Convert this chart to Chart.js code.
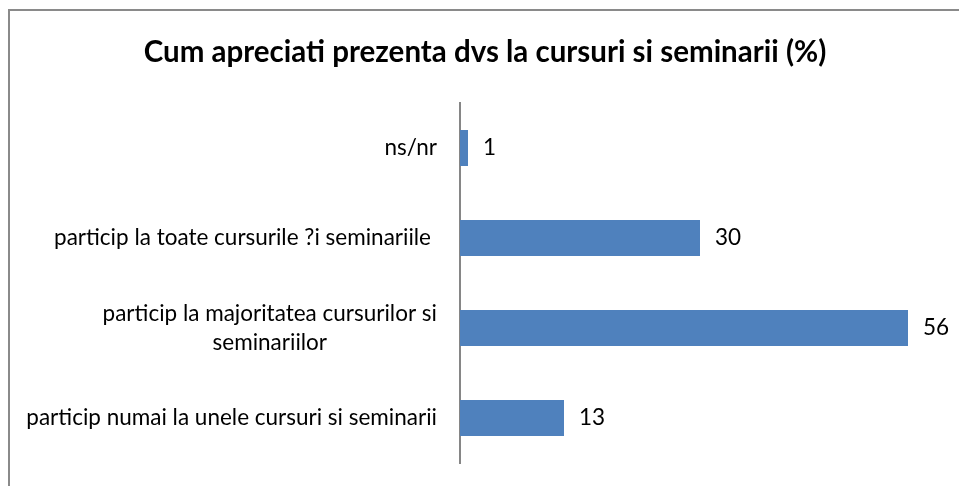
<!DOCTYPE html>
<html>
<head>
<meta charset="utf-8">
<script src="https://cdn.jsdelivr.net/npm/chart.js@4"></script>
<style>
  html, body { margin: 0; padding: 0; background: #fff; overflow: hidden; }
  #wrap { position: relative; width: 959px; height: 486px; }
  #chenar { position: absolute; left: 8px; top: 9px; width: 1100px; height: 700px;
            border-left: 2px solid #8a8a8a; border-top: 2px solid #8a8a8a; }
  #grafic { position: absolute; left: 0; top: 0; }
</style>
</head>
<body>
<div id="wrap">
  <div id="chenar"></div>
  <canvas id="grafic" width="959" height="486"></canvas>
</div>
<script>
const titlu = 'Cum apreciati prezenta dvs la cursuri si seminarii (%)';
const categorii = [
  'ns/nr',
  'particip la toate cursurile ?i seminariile ',
  ['particip la majoritatea cursurilor si', 'seminariilor'],
  'particip numai la unele cursuri si seminarii'
];
const procente = [1, 30, 56, 13];

const fontText = 'Lato';
const marimeText = 22.5;

// etichetele de categorie, fiecare rand centrat in blocul lui, blocul aliniat la dreapta
const eticheteCategorii = {
  id: 'eticheteCategorii',
  afterDraw(chart) {
    const ctx = chart.ctx;
    const y = chart.scales.y;
    const xDreapta = chart.chartArea.left - 23;
    ctx.save();
    ctx.font = `${marimeText}px ${fontText}`;
    ctx.fillStyle = '#000';
    ctx.textAlign = 'center';
    ctx.textBaseline = 'middle';
    categorii.forEach((c, i) => {
      const randuri = Array.isArray(c) ? c : [c];
      const lat = Math.max(...randuri.map(r => ctx.measureText(r.trimEnd()).width));
      const h = 29;
      const yc = y.getPixelForValue(i);
      randuri.forEach((r, k) => {
        const yy = yc + (k - (randuri.length - 1) / 2) * h;
        ctx.fillText(r.trimEnd(), xDreapta - lat / 2 - (r.endsWith(' ') ? 6 : 0), yy);
      });
    });
    ctx.restore();
  }
};

// valorile scrise dupa capatul barelor
const eticheteValori = {
  id: 'eticheteValori',
  afterDatasetsDraw(chart) {
    const ctx = chart.ctx;
    const meta = chart.getDatasetMeta(0);
    ctx.save();
    ctx.font = `${marimeText}px ${fontText}`;
    ctx.fillStyle = '#000';
    ctx.textAlign = 'left';
    ctx.textBaseline = 'middle';
    meta.data.forEach((bar, i) => {
      ctx.fillText(String(procente[i]), bar.x + 15, bar.y);
    });
    ctx.restore();
  }
};

new Chart(document.getElementById('grafic'), {
  type: 'bar',
  data: {
    labels: categorii,
    datasets: [{
      label: 'Procent',
      data: procente,
      backgroundColor: '#4F81BD',
      borderWidth: 0,
      barPercentage: 0.4,
      categoryPercentage: 1
    }]
  },
  options: {
    indexAxis: 'y',
    responsive: false,
    animation: false,
    layout: { padding: { left: 30, right: 19, bottom: 23 } },
    plugins: {
      legend: { display: false },
      tooltip: { enabled: false },
      title: {
        display: true,
        text: titlu,
        color: '#000',
        font: { family: fontText, size: 29.5, weight: 'bold' },
        padding: { top: 35, bottom: 32.6 }
      }
    },
    scales: {
      x: { display: false, min: 0, max: 60 },
      y: {
        grid: { display: false, drawTicks: false },
        border: { display: true, color: '#868686', width: 2 },
        ticks: { display: false },
        afterFit(scale) { scale.width = 430; }
      }
    }
  },
  plugins: [eticheteCategorii, eticheteValori]
});
</script>
</body>
</html>
